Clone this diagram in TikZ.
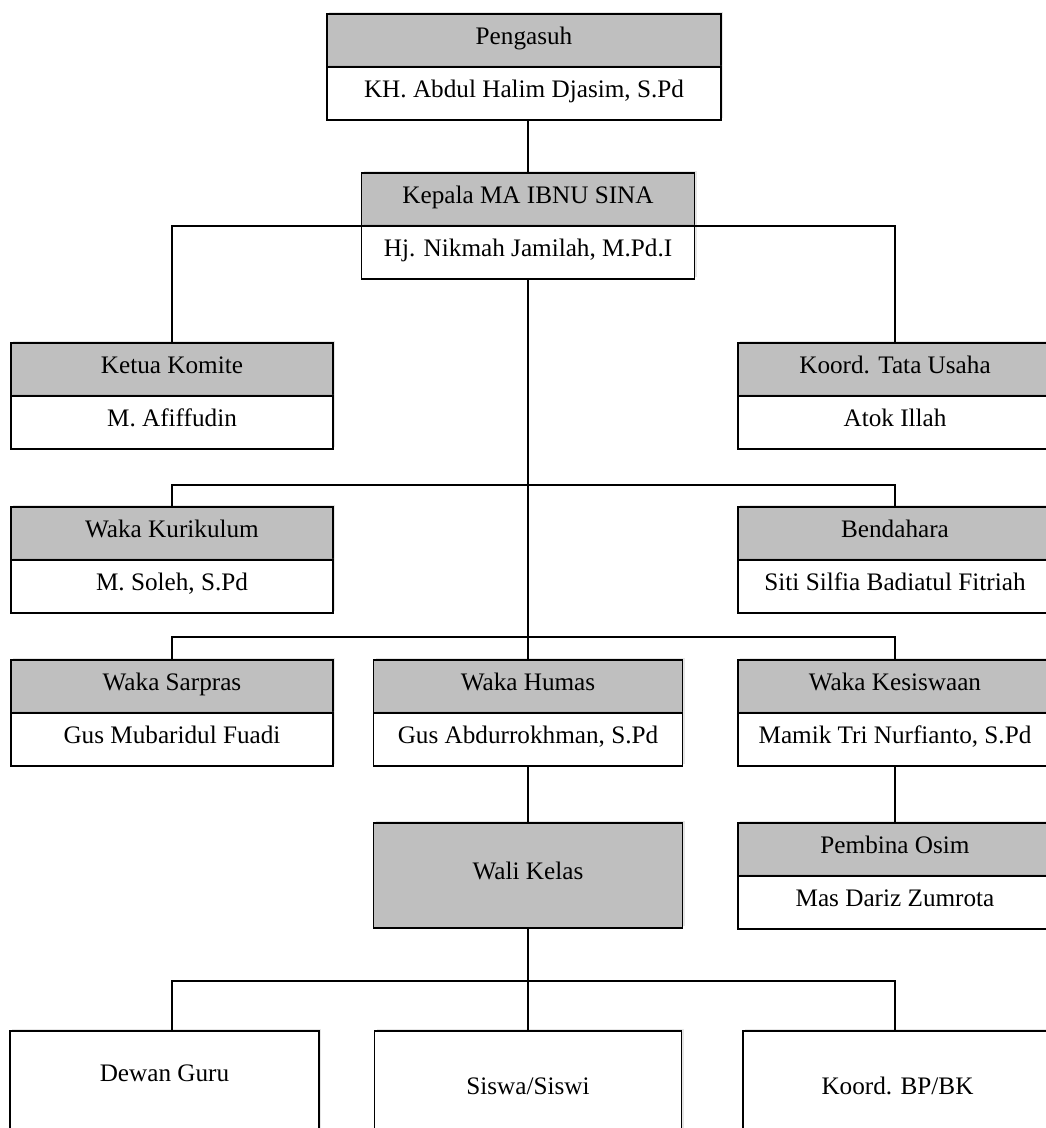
\documentclass[tikz,border=0pt]{standalone}
\usepackage{fontspec}
\setmainfont{Liberation Serif}
\usepackage{tikz}
\usetikzlibrary{shadows}

\begin{document}
\begin{tikzpicture}[x=1pt, y=-1pt,
    posbox/.style={draw, line width=1.8pt, fill=black!25, inner sep=0pt, outer sep=0pt, anchor=north,
      minimum width=#1, minimum height=53pt, text height=17.5pt, text depth=9pt,
      font=\fontsize{25.2}{30}\selectfont,
      drop shadow={shadow xshift=2pt, shadow yshift=2pt, opacity=0.2}},
    namebox/.style={posbox=#1, fill=white},
    link/.style={line width=1.6pt}]
    \useasboundingbox (0,0) rectangle (1046,1128);
    \clip (0,0) rectangle (1046,1128);

    \node[posbox=394pt] (pengT) at (524,14) {Pengasuh};
    \node[namebox=394pt] (pengN) at (pengT.south) {KH. Abdul Halim Djasim, S.Pd};
    \node[posbox=333pt] (kepT) at (528,173) {Kepala MA IBNU SINA};
    \node[namebox=333pt] (kepN) at (kepT.south) {Hj. Nikmah Jamilah, M.Pd.I};

    \node[posbox=322pt] (komT) at (172,343) {Ketua Komite};
    \node[namebox=322pt] (komN) at (komT.south) {M. Afiffudin};
    \node[posbox=314pt] (tuT) at (895,343) {Koord. Tata Usaha};
    \node[namebox=314pt] (tuN) at (tuT.south) {Atok Illah};

    \node[posbox=322pt] (kurT) at (172,507) {Waka Kurikulum};
    \node[namebox=322pt] (kurN) at (kurT.south) {M. Soleh, S.Pd};
    \node[posbox=314pt] (bendT) at (895,507) {Bendahara};
    \node[namebox=314pt] (bendN) at (bendT.south) {Siti Silfia Badiatul Fitriah};

    \node[posbox=322pt] (sarT) at (172,660) {Waka Sarpras};
    \node[namebox=322pt] (sarN) at (sarT.south) {Gus Mubaridul Fuadi};
    \node[posbox=309pt] (humT) at (528,660) {Waka Humas};
    \node[namebox=309pt] (humN) at (humT.south) {Gus Abdurrokhman, S.Pd};
    \node[posbox=314pt] (kesT) at (895,660) {Waka Kesiswaan};
    \node[namebox=314pt] (kesN) at (kesT.south) {Mamik Tri Nurfianto, S.Pd};

    \node[posbox=309pt, minimum height=105pt] (wali) at (528,823) {Wali Kelas};
    \node[posbox=314pt] (osimT) at (895,823) {Pembina Osim};
    \node[namebox=314pt] (osimN) at (osimT.south) {Mas Dariz Zumrota};

    % boxes run off the bottom edge
    \node[namebox=309pt, minimum height=119pt, text depth=35pt] (dewan) at (164.5,1031) {Dewan Guru};
    \node[namebox=307pt, minimum height=119pt] (siswa) at (528,1031) {Siswa/Siswi};
    \node[namebox=309pt, minimum height=119pt] (bpbk) at (897.5,1031) {Koord. BP/BK};

    \coordinate (j1) at (528,485);
    \coordinate (j2) at (528,637);
    \coordinate (j3) at (528,981);

    \draw[link] (kepT.north) -- (kepT.north |- pengN.south);
    \draw[link] (komT.north) |- (kepT.south) -| (tuT.north);
    \draw[link] (kepN.south) -- (humT.north);
    \draw[link] (kurT.north) |- (j1) -| (bendT.north);
    \draw[link] (sarT.north) |- (j2) -| (kesT.north);
    \draw[link] (humN.south) -- (wali.north);
    \draw[link] (kesN.south) -- (osimT.north);
    \draw[link] (wali.south) -- (siswa.north);
    \draw[link] (dewan.north -| komT.north) |- (j3) -| (bpbk.north -| tuT.north);
\end{tikzpicture}
\end{document}
